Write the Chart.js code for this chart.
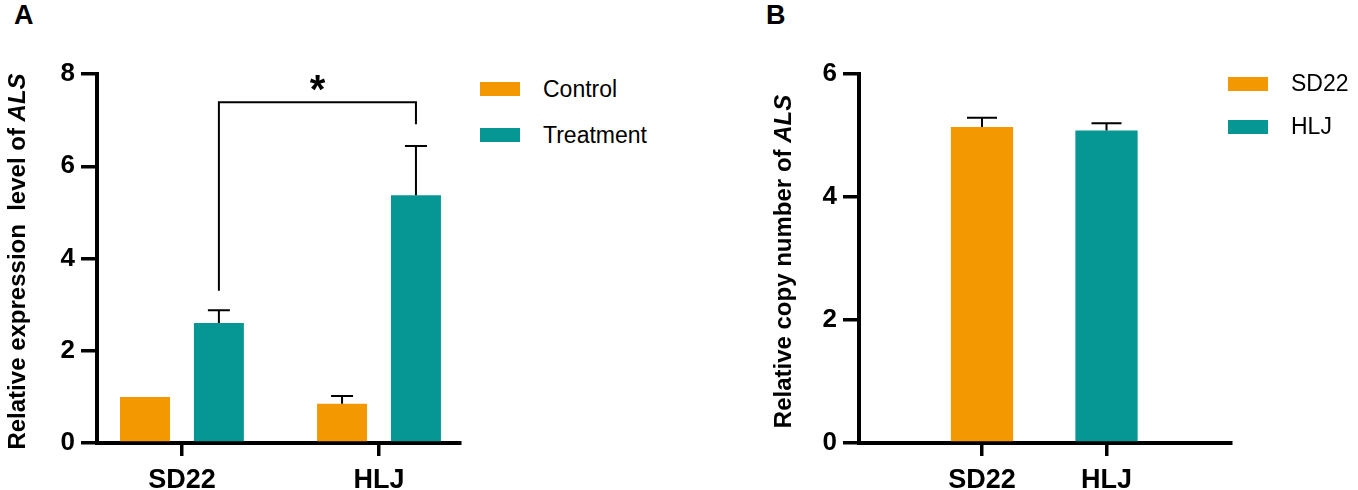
<!DOCTYPE html>
<html lang="en">
<head>
  <meta charset="UTF-8">
  <title>ALS expression and copy number</title>
  <script src="https://cdn.jsdelivr.net/npm/chart.js"></script>
  <style>
    body { margin: 0; background: #fff; font-family: 'Liberation Sans', Arial, sans-serif; color: #000; }
    .page { position: relative; width: 1358px; height: 490px; overflow: hidden; }
    .panel-label { position: absolute; top: 0; font-weight: bold; font-size: 27px; line-height: 30px; }
    canvas { position: absolute; top: 0; }
    .legend { position: absolute; font-size: 23px; }
    .legend .row { display: flex; align-items: center; }
    .legend .swatch { width: 40px; height: 14px; margin-right: 23px; }
  </style>
</head>
<body>
<div class="page">
  <div class="panel-label" style="left:14px;">A</div>
  <div class="panel-label" style="left:766px;">B</div>
  <canvas id="chartA" width="480" height="490" style="left:0;"></canvas>
  <canvas id="chartB" width="560" height="490" style="left:700px;"></canvas>
  <div class="legend" id="legendA" style="left:480px; top:66px;"></div>
  <div class="legend" id="legendB" style="left:1228px; top:62px;"></div>
</div>

<script>
// ---- data ----
const groups = ['SD22', 'HLJ'];
const seriesNames = ['Control', 'Treatment'];
const controlValues = [1.0, 0.85];
const controlErrors = [0, 0.17];
const treatmentValues = [2.6, 5.37];
const treatmentErrors = [0.28, 1.07];
const expressionTicks = [0, 2, 4, 6, 8];

const copyNumberValues = [5.14, 5.08];
const copyNumberErrors = [0.15, 0.12];
const copyTicks = [0, 2, 4, 6];

// significance bracket between the two treatment bars
const bracketLevel = 7.39;
const bracketLeftEnd = 3.3;
const bracketRightEnd = 6.91;
const bracketMark = '*';

const ORANGE = '#F39800';
const TEAL = '#069694';
const FONT = "'Liberation Sans', Arial, sans-serif";

// ---- legends (html) ----
function buildLegend(id, names, colors, rowHeight) {
    const box = document.getElementById(id);
    names.forEach((n, i) => {
        const row = document.createElement('div');
        row.className = 'row';
        row.style.height = rowHeight + 'px';
        row.innerHTML = `<span class="swatch" style="background:${colors[i]}"></span><span>${n}</span>`;
        box.appendChild(row);
    });
}
buildLegend('legendA', seriesNames, [ORANGE, TEAL], 46);
buildLegend('legendB', groups, [ORANGE, TEAL], 43);

// ---- plugins ----
const errorBars = {
    id: 'errorBars',
    afterDatasetsDraw(chart) {
        const ctx = chart.ctx;
        const y = chart.scales.y;
        ctx.save();
        ctx.strokeStyle = '#000';
        ctx.lineWidth = 2;
        chart.data.datasets.forEach((ds, d) => {
            if (!ds.errors) return;
            const meta = chart.getDatasetMeta(d);
            meta.data.forEach((bar, i) => {
                const err = ds.errors[i];
                if (!err) return;
                const top = y.getPixelForValue(ds.data[i].y + err);
                const cap = ds.capHalf || 11;
                ctx.beginPath();
                ctx.moveTo(bar.x, bar.y);
                ctx.lineTo(bar.x, top);
                ctx.moveTo(bar.x - cap, top);
                ctx.lineTo(bar.x + cap, top);
                ctx.stroke();
            });
        });
        ctx.restore();
    }
};

const yTitle = {
    id: 'yTitle',
    afterDraw(chart, args, opts) {
        if (!opts.parts) return;
        const ctx = chart.ctx;
        const area = chart.chartArea;
        const fonts = opts.parts.map(p => (p.italic ? 'italic ' : '') + 'bold 24px ' + FONT);
        let total = 0;
        const widths = opts.parts.map((p, i) => { ctx.font = fonts[i]; const w = ctx.measureText(p.text).width; total += w; return w; });
        ctx.save();
        ctx.translate(opts.x, (area.top + area.bottom) / 2 + 3);
        ctx.rotate(-Math.PI / 2);
        ctx.fillStyle = '#000';
        ctx.textBaseline = 'middle';
        ctx.textAlign = 'left';
        let pos = -total / 2;
        opts.parts.forEach((p, i) => {
            ctx.font = fonts[i];
            ctx.fillText(p.text, pos, 0);
            pos += widths[i];
        });
        ctx.restore();
    }
};

const bracket = {
    id: 'bracket',
    afterDatasetsDraw(chart) {
        const ctx = chart.ctx;
        const y = chart.scales.y;
        const bars = chart.getDatasetMeta(1).data;
        const x1 = bars[0].x, x2 = bars[1].x;
        const yTop = y.getPixelForValue(bracketLevel);
        ctx.save();
        ctx.strokeStyle = '#000';
        ctx.lineWidth = 2;
        ctx.beginPath();
        ctx.moveTo(x1, y.getPixelForValue(bracketLeftEnd));
        ctx.lineTo(x1, yTop);
        ctx.lineTo(x2, yTop);
        ctx.lineTo(x2, y.getPixelForValue(bracketRightEnd));
        ctx.stroke();
        ctx.fillStyle = '#000';
        ctx.font = 'bold 40px ' + FONT;
        ctx.textAlign = 'center';
        ctx.textBaseline = 'alphabetic';
        ctx.fillText(bracketMark, (x1 + x2) / 2, yTop + 1);
        ctx.restore();
    }
};

// ---- shared axis styles ----
function xAxis(min, max) {
    return {
        type: 'linear', min: min, max: max, offset: false,
        afterBuildTicks: s => { s.ticks = groups.map((g, i) => ({ value: i })); },
        afterFit: s => { s.height = 47; },
        ticks: { callback: v => groups[v], color: '#000', padding: 8, maxRotation: 0, autoSkip: false,
                 font: { family: FONT, size: 27, weight: 'bold' } },
        grid: { display: true, offset: false, drawOnChartArea: false, drawTicks: true, tickLength: 13, lineWidth: 3.5, color: '#000' },
        border: { display: true, width: 4, color: '#000' }
    };
}
function yAxis(max, tickValues, width) {
    return {
        min: 0, max: max,
        afterBuildTicks: s => { s.ticks = tickValues.map(v => ({ value: v })); },
        afterFit: s => { s.width = width; },
        ticks: { color: '#000', padding: 6, font: { family: FONT, size: 26, weight: 'bold' } },
        grid: { display: true, drawOnChartArea: false, drawTicks: true, tickLength: 16, lineWidth: 3.5, color: '#000' },
        border: { display: true, width: 4, color: '#000' }
    };
}

// ---- panel A ----
new Chart(document.getElementById('chartA'), {
    type: 'bar',
    data: {
        datasets: [
            { label: seriesNames[0], data: controlValues.map((v, i) => ({ x: i, y: v })), errors: controlErrors,
              backgroundColor: ORANGE, categoryPercentage: 0.75, barPercentage: 0.676, capHalf: 11 },
            { label: seriesNames[1], data: treatmentValues.map((v, i) => ({ x: i, y: v })), errors: treatmentErrors,
              backgroundColor: TEAL, categoryPercentage: 0.75, barPercentage: 0.676, capHalf: 11 }
        ]
    },
    options: {
        responsive: false,
        animation: false,
        layout: { padding: { left: 0, right: 20, top: 74, bottom: 0 } },
        plugins: {
            legend: { display: false },
            tooltip: { enabled: false },
            yTitle: { x: 18, parts: [{ text: 'Relative expression  level of ' }, { text: 'ALS', italic: true }] }
        },
        scales: { x: xAxis(-0.431, 1.411), y: yAxis(8, expressionTicks, 97) }
    },
    plugins: [errorBars, yTitle, bracket]
});

// ---- panel B ----
new Chart(document.getElementById('chartB'), {
    type: 'bar',
    data: {
        datasets: [
            { label: 'Relative copy number', data: copyNumberValues.map((v, i) => ({ x: i, y: v })), errors: copyNumberErrors,
              backgroundColor: [ORANGE, TEAL], categoryPercentage: 1, barPercentage: 0.5, capHalf: 15 }
        ]
    },
    options: {
        responsive: false,
        animation: false,
        layout: { padding: { left: 0, right: 29, top: 74, bottom: 0 } },
        plugins: {
            legend: { display: false },
            tooltip: { enabled: false },
            yTitle: { x: 84, parts: [{ text: 'Relative copy number of ' }, { text: 'ALS', italic: true }] }
        },
        scales: { x: xAxis(-0.988, 2.0), y: yAxis(6, copyTicks, 159) }
    },
    plugins: [errorBars, yTitle]
});
</script>
</body>
</html>
